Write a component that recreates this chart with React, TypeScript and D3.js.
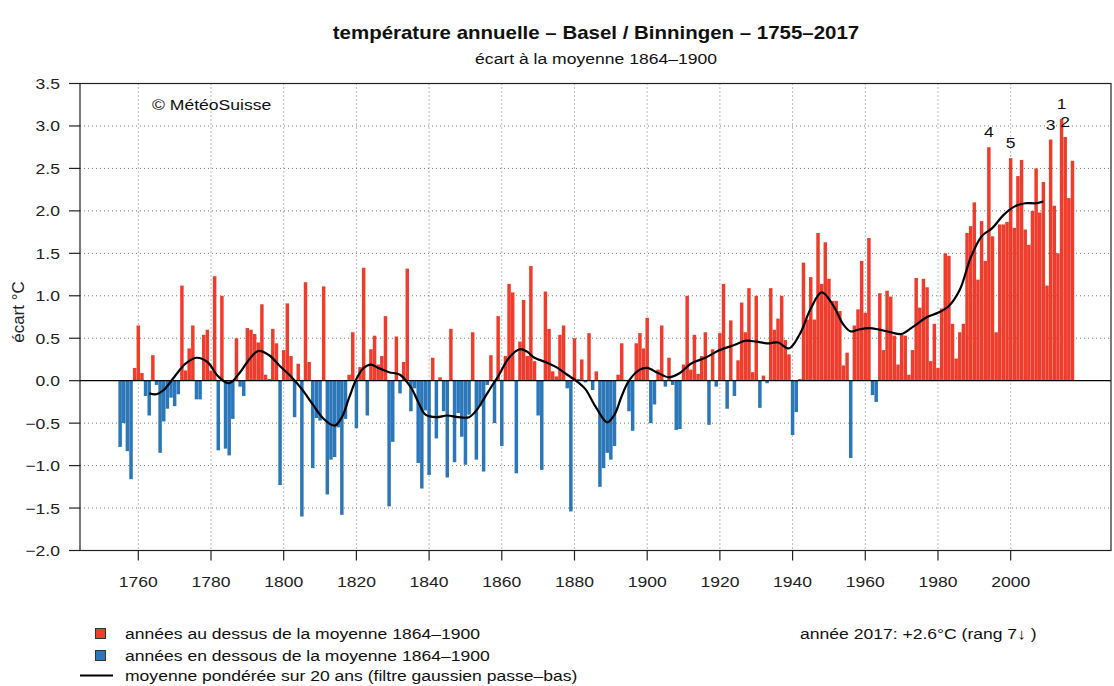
import React from "react";
import * as d3 from "d3";

const startYear = 1755;
const values1755: number[] = [-0.78, -0.5, -0.83, -1.16, 0.15];
const values1760: number[] = [0.65, 0.09, -0.18, -0.41, 0.3, -0.05, -0.85, -0.48, -0.33, -0.2];
const values1770: number[] = [-0.3, -0.16, 1.12, 0.12, 0.38, 0.65, -0.22, -0.22, 0.54, 0.6];
const values1780: number[] = [0.12, 1.23, -0.82, 1.0, -0.8, -0.88, -0.45, 0.5, -0.07, -0.18];
const values1790: number[] = [0.62, 0.6, 0.55, 0.45, 0.9, 0.07, 0.02, 0.61, 0.44, -1.23];
const values1800: number[] = [0.36, 0.91, 0.29, -0.43, 0.2, -1.6, 1.16, 0.22, -1.03, -0.44];
const values1810: number[] = [-0.47, 1.11, -1.34, -0.93, -0.9, -0.55, -1.58, -0.45, 0.07, 0.57];
const values1820: number[] = [-0.56, 0.16, 1.33, -0.41, 0.37, 0.53, 0.19, 0.29, 0.76, -1.48];
const values1830: number[] = [-0.72, 0.52, -0.15, 0.22, 1.32, -0.36, -0.09, -0.97, -1.27, -0.35];
const values1840: number[] = [-1.11, 0.27, -0.68, 0.04, -0.36, -1.14, 0.61, -0.96, -0.38, -0.66];
const values1850: number[] = [-0.99, -0.4, 0.57, -0.93, -0.3, -1.07, -0.05, 0.3, -0.5, 0.76];
const values1860: number[] = [-0.77, 0.29, 1.14, 1.04, -1.09, 0.46, 0.95, 0.29, 1.35, 0.23];
const values1870: number[] = [-0.41, -1.05, 1.05, 0.61, 0.11, 0.05, 0.54, 0.65, -0.09, -1.54];
const values1880: number[] = [0.5, 0.02, 0.25, -0.02, 0.56, -0.11, 0.11, -1.25, -1.03, -0.85];
const values1890: number[] = [-0.93, -0.77, 0.07, 0.44, 0.01, -0.36, -0.59, 0.44, 0.56, 0.38];
const values1900: number[] = [0.74, -0.5, -0.28, 0.13, 0.65, -0.07, 0.27, -0.05, -0.58, -0.57];
const values1910: number[] = [0.19, 1.0, 0.13, 0.54, 0.08, 0.29, 0.57, -0.52, 0.37, -0.07];
const values1920: number[] = [0.56, 1.14, -0.33, 0.71, -0.18, 0.24, 0.92, 0.57, 1.09, 0.1];
const values1930: number[] = [1.0, -0.32, 0.06, -0.03, 1.09, 0.6, 0.73, 1.0, 0.48, 0.31];
const values1940: number[] = [-0.64, -0.37, 0.02, 1.39, 0.72, 1.22, 0.72, 1.74, 1.14, 1.63];
const values1950: number[] = [1.2, 0.94, 0.94, 0.82, 0.18, 0.33, -0.91, 0.65, 0.84, 1.41];
const values1960: number[] = [0.8, 1.68, -0.17, -0.25, 1.03, 0.36, 1.06, 0.99, 0.53, 0.19];
const values1970: number[] = [0.54, 0.53, 0.07, 0.36, 1.21, 0.86, 1.2, 1.1, 0.23, 0.67];
const values1980: number[] = [0.15, 0.85, 1.5, 1.47, 0.67, 0.26, 0.57, 0.67, 1.74, 1.82];
const values1990: number[] = [2.1, 1.19, 1.88, 1.41, 2.75, 1.7, 0.57, 1.84, 1.84, 1.87];
const values2000: number[] = [2.62, 1.8, 2.41, 2.6, 1.78, 1.6, 2.0, 2.5, 1.98, 2.34];
const values2010: number[] = [1.12, 2.84, 2.06, 1.5, 3.08, 2.87, 2.15, 2.59];

const anomalies: number[] = [
  ...values1755, ...values1760, ...values1770, ...values1780, ...values1790,
  ...values1800, ...values1810, ...values1820, ...values1830, ...values1840,
  ...values1850, ...values1860, ...values1870, ...values1880, ...values1890,
  ...values1900, ...values1910, ...values1920, ...values1930, ...values1940,
  ...values1950, ...values1960, ...values1970, ...values1980, ...values1990,
  ...values2000, ...values2010,
];

// 20-year gaussian low-pass curve
const smoothYears: number[] = [1763, 1765, 1767, 1770, 1773, 1776, 1779, 1782, 1785, 1788, 1790, 1793, 1796, 1799, 1802, 1805, 1808, 1811, 1814, 1816, 1818, 1820, 1822, 1824, 1826, 1829, 1832, 1835, 1837, 1839, 1842, 1845, 1848, 1851, 1853, 1855, 1857, 1859, 1862, 1865, 1867, 1869, 1872, 1875, 1878, 1881, 1883, 1886, 1889, 1891, 1893, 1895, 1898, 1900, 1903, 1906, 1909, 1912, 1916, 1920, 1924, 1927, 1930, 1933, 1936, 1939, 1942, 1945, 1948, 1951, 1954, 1956, 1958, 1961, 1964, 1967, 1970, 1973, 1977, 1980, 1983, 1986, 1989, 1992, 1995, 1998, 2001, 2004, 2007, 2009];
const smoothValues: number[] = [-0.15, -0.16, -0.11, 0.05, 0.2, 0.27, 0.22, 0.05, -0.03, 0.1, 0.22, 0.35, 0.3, 0.17, 0.05, -0.1, -0.28, -0.45, -0.53, -0.43, -0.2, 0.02, 0.15, 0.19, 0.15, 0.1, 0.07, -0.08, -0.25, -0.4, -0.43, -0.41, -0.43, -0.43, -0.35, -0.22, -0.08, 0.05, 0.27, 0.37, 0.34, 0.27, 0.22, 0.16, 0.07, -0.02, -0.1, -0.32, -0.49, -0.4, -0.18, 0.0, 0.13, 0.15, 0.09, 0.04, 0.09, 0.2, 0.27, 0.36, 0.42, 0.47, 0.46, 0.44, 0.45, 0.38, 0.55, 0.85, 1.04, 0.9, 0.66, 0.58, 0.6, 0.62, 0.6, 0.57, 0.55, 0.63, 0.75, 0.8, 0.88, 1.07, 1.45, 1.7, 1.8, 1.95, 2.05, 2.09, 2.09, 2.11];

const yTicks: number[] = [3.5, 3.0, 2.5, 2.0, 1.5, 1.0, 0.5, 0.0, -0.5, -1.0, -1.5, -2.0];
const xTicks: number[] = [1760, 1780, 1800, 1820, 1840, 1860, 1880, 1900, 1920, 1940, 1960, 1980, 2000];
const rankYears: number[] = [2014, 2015, 2011, 1994, 2000];
const rankLabels: string[] = ["1", "2", "3", "4", "5"];

const titleText = "température annuelle – Basel / Binningen – 1755–2017";
const subtitleText = "écart à la moyenne 1864–1900";
const legendAbove = "années au dessus de la moyenne 1864–1900";
const legendBelow = "années en dessous de la moyenne 1864–1900";
const legendLine = "moyenne pondérée sur 20 ans (filtre gaussien passe–bas)";
const lastYearText = "année 2017: +2.6°C (rang 7↓ )";

const RED = "#ef3d2d";
const BLUE = "#2b77b9";
const FONT = "'Liberation Sans', Arial, Helvetica, sans-serif";
const SX = 1.17;

function T(props: { x: number; y: number; anchor?: string; size: number; bold?: boolean; fill?: string; children: React.ReactNode }) {
  const { x, y, anchor = "start", size, bold, fill = "#111", children } = props;
  return (
    <text transform={`translate(${x},${y}) scale(${SX},1)`} textAnchor={anchor as any}
      fontSize={size} fontWeight={bold ? "bold" : "normal"} fill={fill}>{children}</text>
  );
}

export default function App() {
  const W = 1114, H = 686;
  const left = 80, right = 1111, top = 83.5, bottom = 550.5;
  const x = d3.scaleLinear().domain([1743.96, 2027.6]).range([left, right]);
  const y = d3.scaleLinear().domain([-2, 3.5]).range([bottom, top]);
  const step = x(1761) - x(1760);
  const bw = step * 0.96;
  const data = anomalies.map((v, i) => ({ year: startYear + i, v }));
  const smooth = smoothYears.map((yr, i) => ({ yr, v: smoothValues[i] }));
  const line = d3.line<{ yr: number; v: number }>()
    .x(d => x(d.yr)).y(d => y(d.v)).curve(d3.curveCatmullRom.alpha(0.5));
  const fmt = (t: number) => (t < 0 ? "\u2212" : "") + Math.abs(t).toFixed(1);

  return (
    <svg width={W} height={H} style={{ position: "absolute", left: 0, top: 0, background: "#fff" }} fontFamily={FONT}>
      <rect x={0} y={0} width={W} height={H} fill="#fff" />
      <T x={596} y={39} anchor="middle" size={17.5} bold>{titleText}</T>
      <T x={596} y={64} anchor="middle" size={15}>{subtitleText}</T>

      {/* grid */}
      {yTicks.filter(t => t !== 0 && t !== 3.5 && t !== -2).map(t => (
        <line key={"gy" + t} x1={left} x2={right} y1={y(t)} y2={y(t)} stroke="#777" strokeWidth={1} strokeDasharray="1,3" />
      ))}
      {xTicks.map(t => (
        <line key={"gx" + t} x1={x(t)} x2={x(t)} y1={top} y2={bottom} stroke="#777" strokeWidth={1} strokeDasharray="1,3" />
      ))}

      {/* bars */}
      {data.map(d => (
        <rect key={d.year} x={x(d.year) - bw / 2} width={bw}
          y={d.v >= 0 ? y(d.v) : y(0)} height={Math.abs(y(d.v) - y(0))}
          fill={d.v >= 0 ? RED : BLUE} />
      ))}

      {/* zero line */}
      <line x1={left} x2={right} y1={y(0)} y2={y(0)} stroke="#000" strokeWidth={1.2} />

      {/* smooth */}
      <path d={line(smooth) || ""} fill="none" stroke="#000" strokeWidth={2.2} />

      {/* rank labels */}
      {rankYears.map((yr, i) => (
        <T key={"r" + yr} x={x(yr)} y={y(anomalies[yr - startYear]) - 10} anchor="middle" size={15}>{rankLabels[i]}</T>
      ))}

      <T x={152} y={110} size={15}>© MétéoSuisse</T>

      {/* frame */}
      <rect x={left} y={top} width={right - left} height={bottom - top} fill="none" stroke="#222" strokeWidth={1.2} />

      {/* y axis */}
      {yTicks.map(t => (
        <g key={"yt" + t}>
          <line x1={left - 11} x2={left} y1={y(t)} y2={y(t)} stroke="#222" strokeWidth={1.2} />
          <T x={60} y={y(t) + 5.5} anchor="end" size={15} fill="#222">{fmt(t)}</T>
        </g>
      ))}
      <text transform={`translate(24,312) rotate(-90)`} textAnchor="middle" fontSize={17} fill="#222">écart °C</text>

      {/* x axis */}
      {xTicks.map(t => (
        <g key={"xt" + t}>
          <line x1={x(t)} x2={x(t)} y1={bottom} y2={bottom + 10} stroke="#222" strokeWidth={1.2} />
          <T x={x(t)} y={bottom + 36} anchor="middle" size={15} fill="#222">{t}</T>
        </g>
      ))}

      {/* legend */}
      <rect x={95.5} y={628.5} width={10} height={10} fill={RED} stroke="#333" strokeWidth={1} />
      <T x={125} y={639} size={15}>{legendAbove}</T>
      <rect x={95.5} y={650.5} width={10} height={10} fill={BLUE} stroke="#333" strokeWidth={1} />
      <T x={125} y={661} size={15}>{legendBelow}</T>
      <line x1={80} x2={113} y1={675.5} y2={675.5} stroke="#000" strokeWidth={2.2} />
      <T x={125} y={681} size={15}>{legendLine}</T>
      <T x={800} y={639} size={15}>{lastYearText}</T>
    </svg>
  );
}
